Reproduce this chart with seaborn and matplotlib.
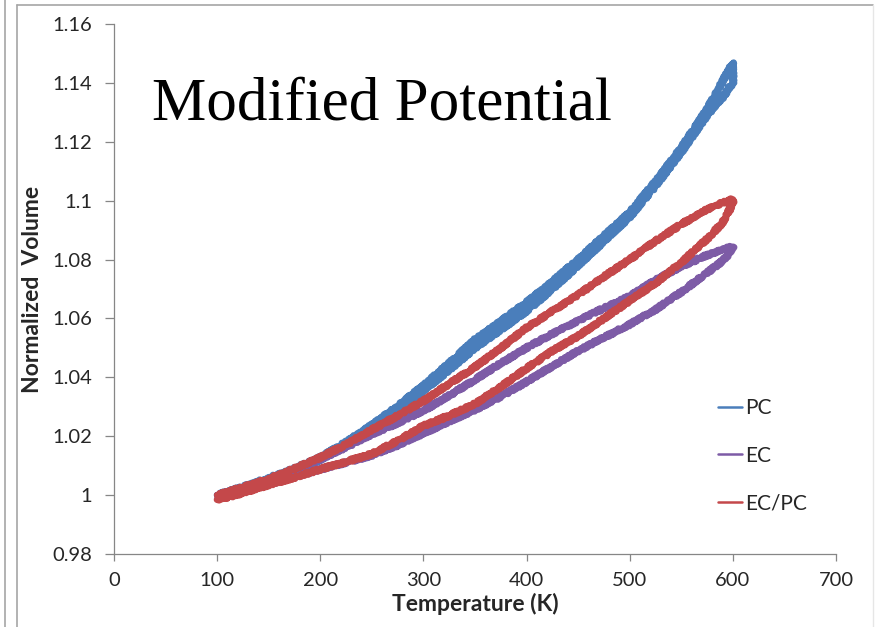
import matplotlib
matplotlib.use("Agg")
import matplotlib.pyplot as plt
from matplotlib.lines import Line2D
import pandas as pd
import seaborn as sns

# Temperature sweep points (K)
temps = [100, 125, 150, 175, 200, 225, 250, 275, 300, 325, 350, 375, 400, 425,
         450, 475, 500, 525, 550, 575, 590, 600]

# Normalized volume, heating and cooling sweeps
pc_heat = [1.0000, 1.0028, 1.0058, 1.0090, 1.0128, 1.0180, 1.0238, 1.0302, 1.0372, 1.0448, 1.0528,
           1.0590, 1.0655, 1.0725, 1.0800, 1.0880, 1.0960, 1.1065, 1.1180, 1.1310, 1.1405, 1.1470]
pc_cool = [1.0000, 1.0025, 1.0052, 1.0085, 1.0120, 1.0170, 1.0225, 1.0288, 1.0355, 1.0425, 1.0500,
           1.0562, 1.0625, 1.0700, 1.0780, 1.0862, 1.0945, 1.1050, 1.1165, 1.1290, 1.1350, 1.1400]

ec_heat = [1.0000, 1.0026, 1.0053, 1.0087, 1.0122, 1.0163, 1.0207, 1.0245, 1.0287, 1.0338, 1.0392,
           1.0448, 1.0500, 1.0548, 1.0592, 1.0635, 1.0675, 1.0730, 1.0777, 1.0815, 1.0833, 1.0845]
ec_cool = [0.9990, 1.0013, 1.0038, 1.0062, 1.0088, 1.0111, 1.0135, 1.0170, 1.0210, 1.0250, 1.0290,
           1.0335, 1.0385, 1.0438, 1.0490, 1.0535, 1.0580, 1.0630, 1.0690, 1.0755, 1.0795, 1.0835]

ecpc_heat = [1.0000, 1.0027, 1.0055, 1.0090, 1.0128, 1.0172, 1.0222, 1.0270, 1.0320, 1.0378, 1.0435,
             1.0500, 1.0568, 1.0625, 1.0680, 1.0742, 1.0800, 1.0863, 1.0920, 1.0970, 1.0993, 1.1005]
ecpc_cool = [0.9983, 1.0008, 1.0035, 1.0060, 1.0088, 1.0113, 1.0140, 1.0185, 1.0235, 1.0270, 1.0310,
             1.0368, 1.0430, 1.0490, 1.0540, 1.0600, 1.0660, 1.0720, 1.0790, 1.0870, 1.0925, 1.0990]

series_names = ["PC", "EC", "EC/PC"]
colors = {"PC": "#4A7EBB", "EC": "#7D5BA6", "EC/PC": "#C4484A"}

y_ticks = [0.98, 1.0, 1.02, 1.04, 1.06, 1.08, 1.1, 1.12, 1.14, 1.16]
y_tick_labels = ["0.98", "1", "1.02", "1.04", "1.06", "1.08", "1.1", "1.12", "1.14", "1.16"]
x_ticks = [0, 100, 200, 300, 400, 500, 600, 700]

# Each loop: heat up along one branch, then cool back down along the other
rows = []
for name, heat, cool in [("PC", pc_heat, pc_cool), ("EC", ec_heat, ec_cool), ("EC/PC", ecpc_heat, ecpc_cool)]:
    for t, v in zip(temps, heat):
        rows.append((name, t, v))
    for t, v in zip(temps[::-1], cool[::-1]):
        rows.append((name, t, v))
df = pd.DataFrame(rows, columns=["series", "T", "V"])

sns.set_style("white")
plt.rcParams["font.family"] = ["Lato", "DejaVu Sans"]

fig = plt.figure(figsize=(8.78, 6.27), dpi=100)
ax = fig.add_axes([114 / 878, 1 - 554 / 627, (836 - 114) / 878, (554 - 24) / 627])

for name in series_names:
    sns.lineplot(data=df[df["series"] == name], x="T", y="V", sort=False, estimator=None,
                 color=colors[name], linewidth=4.8, ax=ax, legend=False,
                 solid_joinstyle="round", solid_capstyle="round")

# slightly ragged strokes, like noisy simulation traces
for line in ax.get_lines():
    line.set_sketch_params(scale=1.4, length=3.0, randomness=2.0)

ax.set_xlim(0, 700)
ax.set_ylim(0.98, 1.16)
ax.set_xticks(x_ticks)
ax.set_yticks(y_ticks)
ax.set_yticklabels(y_tick_labels)

for side in ["top", "right"]:
    ax.spines[side].set_visible(False)
for side in ["left", "bottom"]:
    ax.spines[side].set_color("#868686")
    ax.spines[side].set_linewidth(0.9)

ax.tick_params(axis="y", direction="out", length=6.5, width=0.9, color="#868686",
               labelsize=14.5, pad=9, left=True)
ax.tick_params(axis="x", direction="out", length=5, width=0.9, color="#868686",
               labelsize=14.5, pad=8, bottom=True)

ax.set_xlabel("Temperature (K)", fontsize=16.5, fontweight="bold", labelpad=3)
ax.set_ylabel("Normalized  Volume", fontsize=16.5, fontweight="bold", labelpad=7)

ax.text(152 / 878, 1 - 120 / 627, "Modified Potential", transform=fig.transFigure,
        family="Liberation Serif", fontsize=44, color="black", va="baseline", ha="left")

handles = [Line2D([0], [0], color=colors[n], lw=1.8) for n in series_names]
fig.legend(handles, series_names, loc="upper left", bbox_to_anchor=(718 / 878, 1 - 398 / 627),
           frameon=False, fontsize=15, handlelength=1.15, handletextpad=0.15,
           labelspacing=1.33, borderpad=0, borderaxespad=0)

# Slide frame lines around the chart
gray = "#A6A6A6"
fig.add_artist(Line2D([5 / 878, 5 / 878], [0, 1], transform=fig.transFigure, color=gray, lw=1.2))
fig.add_artist(Line2D([17 / 878, 17 / 878], [0, 1 - 5 / 627], transform=fig.transFigure, color=gray, lw=1.2))
fig.add_artist(Line2D([17 / 878, 873 / 878], [1 - 5 / 627, 1 - 5 / 627], transform=fig.transFigure, color=gray, lw=1.2))
fig.add_artist(Line2D([873 / 878, 873 / 878], [0, 1 - 5 / 627], transform=fig.transFigure, color="#E6E6E6", lw=1.0))

fig.savefig("out.png", dpi=100)
